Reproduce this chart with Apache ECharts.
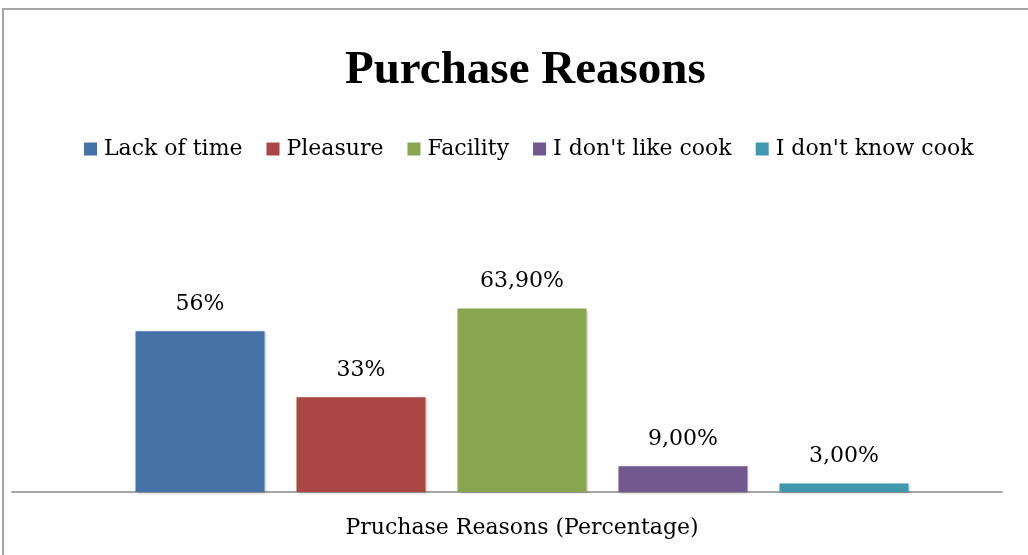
<!DOCTYPE html>
<html>
<head>
<meta charset="utf-8">
<script src="https://cdn.jsdelivr.net/npm/echarts@6/dist/echarts.min.js"></script>
<style>
  html, body { margin: 0; padding: 0; background: #fff; }
  #frame { position: absolute; left: 2px; top: 8px; width: 1040px; height: 560px; border: 2px solid #a6a6a6; box-sizing: border-box; }
  #chart { position: absolute; left: 0; top: 0; width: 1028px; height: 555px; }
</style>
</head>
<body>
<div id="frame"></div>
<div id="chart"></div>
<script>
var reasons = ['Lack of time', 'Pleasure', 'Facility', "I don't like cook", "I don't know cook"];
var values = [56, 33, 63.9, 9, 3];
var valueLabels = ['56%', '33%', '63,90%', '9,00%', '3,00%'];
var colors = ['#4572a7', '#aa4643', '#89a54e', '#71588f', '#4198af'];
var category = ['Pruchase Reasons (Percentage)'];

var bodyFont = 'DejaVu Serif';

var series = reasons.map(function (name, i) {
    return {
        name: name,
        type: 'bar',
        xAxisIndex: 0,
        yAxisIndex: 0,
        barWidth: 129,
        barGap: '24.8%',
        data: [values[i]],
        itemStyle: {
            color: colors[i],
            shadowColor: 'rgba(0,0,0,0.25)',
            shadowBlur: 3,
            shadowOffsetX: 1,
            shadowOffsetY: 1
        },
        label: {
            show: true,
            position: 'top',
            distance: 16,
            fontFamily: bodyFont,
            fontSize: 22,
            color: '#000',
            formatter: function () { return valueLabels[i]; }
        }
    };
});

var chart = echarts.init(document.getElementById('chart'));
chart.setOption({
    animation: false,
    color: colors,
    title: {
        text: 'Purchase Reasons',
        left: 340,
        top: 42,
        textStyle: {
            fontFamily: 'Liberation Serif',
            fontWeight: 'bold',
            fontSize: 47,
            color: '#000'
        }
    },
    legend: {
        top: 133,
        left: 79,
        icon: 'rect',
        itemWidth: 13,
        itemHeight: 13,
        itemGap: 24,
        textStyle: {
            fontFamily: bodyFont,
            fontSize: 22,
            color: '#000',
            padding: [0, 0, 0, 2]
        },
        data: reasons
    },
    grid: [
        { left: 42, right: 26, top: 291, bottom: 63 },
        { left: 12, right: 26, top: 291, bottom: 63 }
    ],
    xAxis: [{
        type: 'category',
        gridIndex: 0,
        data: category,
        axisLine: { show: false },
        axisTick: { show: false },
        axisLabel: { show: false },
        name: category[0],
        nameLocation: 'middle',
        nameGap: 25,
        nameTextStyle: { fontFamily: bodyFont, fontSize: 22, color: '#000' }
    }, {
        type: 'category',
        gridIndex: 1,
        data: [''],
        axisLine: { show: true, lineStyle: { color: '#a6a6a6', width: 2 } },
        axisTick: { show: false },
        axisLabel: { show: false }
    }],
    yAxis: [{
        type: 'value',
        gridIndex: 0,
        min: 0,
        max: 70,
        show: false
    }, {
        type: 'value',
        gridIndex: 1,
        min: 0,
        max: 70,
        show: false
    }],
    series: series
});
</script>
</body>
</html>
